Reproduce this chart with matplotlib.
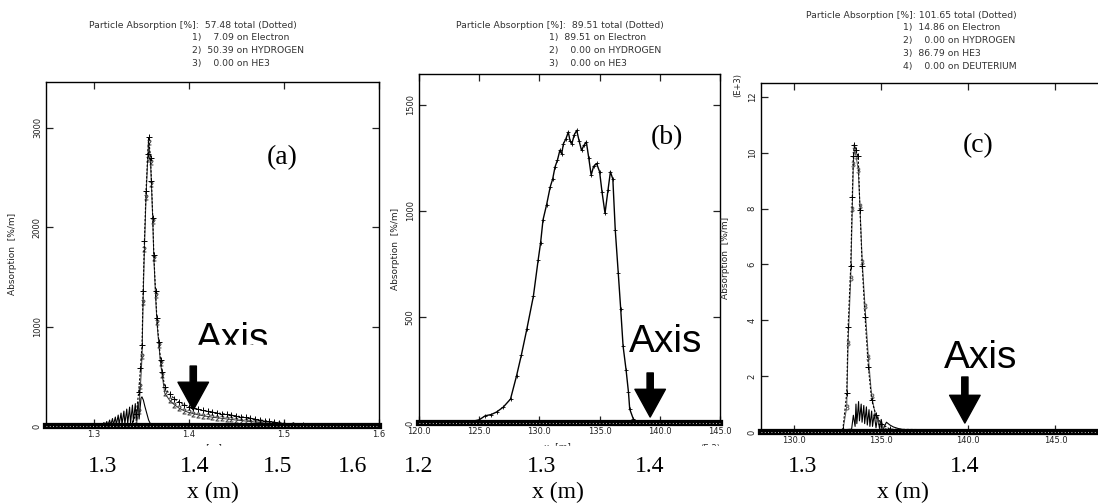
import matplotlib
matplotlib.use("Agg")
import matplotlib.pyplot as plt
from matplotlib.patches import Rectangle

W, H = 1098, 504

## Panel (a): x in m, absorption in %/m
xa = [1.330, 1.340, 1.345, 1.3476, 1.3494, 1.3511, 1.3522, 1.3536, 1.3553, 1.3571,
      1.358, 1.360, 1.361, 1.3624, 1.3635, 1.3653, 1.3667, 1.3688, 1.3706, 1.3723,
      1.375, 1.380, 1.385, 1.390, 1.395, 1.400, 1.405, 1.410, 1.415, 1.420,
      1.425, 1.430, 1.435, 1.440, 1.445, 1.450, 1.455, 1.460, 1.465, 1.470,
      1.475, 1.480, 1.485, 1.490, 1.495, 1.500, 1.510, 1.520, 1.540, 1.600]
tot_a = [0, 20, 120, 343, 579, 818, 1353, 1858, 2364, 2734,
         2902, 2700, 2465, 2094, 1724, 1354, 1084, 848, 663, 545,
         390, 320, 275, 240, 215, 195, 180, 168, 157, 148,
         140, 132, 125, 117, 110, 102, 94, 86, 78, 70,
         62, 54, 46, 38, 31, 25, 15, 8, 2, 0]
hyd_a = [0, 0, 10, 150, 400, 700, 1250, 1780, 2300, 2690,
         2860, 2660, 2430, 2060, 1690, 1320, 1050, 815, 630, 510,
         330, 260, 215, 180, 155, 137, 124, 113, 104, 96,
         89, 83, 77, 71, 66, 60, 55, 50, 45, 40,
         35, 30, 25, 21, 17, 13, 8, 4, 1, 0]
xa_e = [1.300, 1.302, 1.303, 1.305, 1.306, 1.308, 1.309, 1.311, 1.312, 1.314,
        1.315, 1.317, 1.318, 1.320, 1.321, 1.323, 1.324, 1.326, 1.327, 1.329,
        1.330, 1.332, 1.333, 1.335, 1.336, 1.338, 1.339, 1.341, 1.342, 1.344,
        1.345, 1.347, 1.348, 1.350, 1.351, 1.3525, 1.354, 1.356, 1.358, 1.361]
elec_a = [0, 10, 2, 18, 3, 25, 4, 35, 5, 45,
          6, 60, 8, 75, 10, 90, 12, 110, 15, 130,
          18, 150, 20, 170, 25, 190, 30, 210, 40, 225,
          50, 240, 70, 280, 293, 260, 200, 130, 60, 0]

## Panel (b): x in 1e-2 m
xb = [120.0, 123.0, 124.2, 125.0, 125.5, 126.0, 126.45, 127.0, 127.6, 128.1,
      128.5, 128.95, 129.5, 129.9, 130.1, 130.3, 130.6, 130.9, 131.1, 131.3,
      131.5, 131.7, 131.85, 132.0, 132.2, 132.4, 132.55, 132.7, 132.9, 133.1,
      133.3, 133.5, 133.7, 133.9, 134.1, 134.3, 134.5, 134.75, 135.0, 135.2,
      135.45, 135.7, 135.9, 136.1, 136.3, 136.55, 136.75, 136.95, 137.2, 137.4,
      137.5, 137.8, 138.2, 140.0, 145.0]
tot_b = [0, 0, 5, 15, 34, 40, 52, 75, 113, 222,
         320, 441, 598, 770, 850, 958, 1030, 1114, 1150, 1208,
         1240, 1286, 1270, 1318, 1340, 1372, 1330, 1318, 1360, 1380,
         1330, 1286, 1310, 1325, 1250, 1169, 1210, 1224, 1185, 1090,
         989, 1100, 1185, 1150, 911, 707, 540, 363, 250, 144,
         66, 19, 0, 0, 0]

## Panel (c): x in 1e-2 m, absorption in 1e3 %/m
xc = [128.1, 132.5, 132.8, 133.02, 133.1, 133.25, 133.34, 133.4, 133.45, 133.55,
      133.68, 133.78, 133.91, 134.07, 134.26, 134.45, 134.7, 135.0, 135.5, 147.9]
tot_c = [0, 0, 0.1, 1.39, 3.77, 5.93, 8.43, 9.87, 10.29, 10.1,
         9.87, 7.96, 5.93, 4.13, 2.34, 1.15, 0.6, 0.3, 0.1, 0]
he3_c = [0, 0, 0.05, 0.9, 3.2, 5.5, 8.0, 9.6, 10.1, 9.9,
         9.4, 8.1, 6.1, 4.5, 2.7, 1.3, 0.5, 0.2, 0.05, 0]
xc_e = [129.6, 132.6, 133.3, 133.4, 133.5, 133.55, 133.6, 133.7, 133.75, 133.85,
        133.9, 134.0, 134.05, 134.15, 134.2, 134.3, 134.35, 134.45, 134.5, 134.6,
        134.7, 134.8, 134.9, 135.0, 135.1, 135.3, 135.5, 135.7, 136.0, 136.5, 137.2]
elec_c = [0.07, 0.07, 0.1, 0.6, 0.2, 1.0, 0.3, 1.09, 0.4, 1.0,
          0.35, 0.95, 0.3, 0.9, 0.25, 0.8, 0.2, 0.75, 0.2, 0.65,
          0.15, 0.55, 0.12, 0.45, 0.1, 0.35, 0.25, 0.18, 0.12, 0.06, 0]

hdr_a = ["Particle Absorption [%]:  57.48 total (Dotted)",
         "1)    7.09 on Electron", "2)  50.39 on HYDROGEN", "3)    0.00 on HE3"]
hdr_b = ["Particle Absorption [%]:  89.51 total (Dotted)",
         "1)  89.51 on Electron", "2)    0.00 on HYDROGEN", "3)    0.00 on HE3"]
hdr_c = ["Particle Absorption [%]: 101.65 total (Dotted)",
         "1)  14.86 on Electron", "2)    0.00 on HYDROGEN", "3)  86.79 on HE3",
         "4)    0.00 on DEUTERIUM"]

big_a = ["1.3", "1.4", "1.5", "1.6"]
big_b = ["1.2", "1.3", "1.4"]
big_c = ["1.3", "1.4"]

fig = plt.figure(figsize=(W / 100, H / 100), dpi=100)


def fx(px):
    return px / W


def fy(py):
    return 1 - py / H


def panel(l, t, r, b):
    ax = fig.add_axes([fx(l), fy(b), (r - l) / W, (b - t) / H])
    ax.tick_params(direction="in", length=5, width=0.9, top=True, right=True,
                   labelsize=6, pad=3, colors="#222")
    for s in ax.spines.values():
        s.set_linewidth(1.0)
    return ax


def finish_y(ax):
    for lab in ax.get_yticklabels():
        lab.set_rotation(90)
        lab.set_va("center")
        lab.set_ha("right")


def zero_band(ax):
    ax.axhline(0, color="black", lw=4.5, clip_on=False, zorder=3)
    ax.axhline(0, color="white", lw=0.6, ls=(0, (1, 3)), clip_on=False, zorder=4)


def axis_arrow(ax, x, y0, y1):
    ax.annotate("", xy=(x, y1), xytext=(x, y0),
                arrowprops=dict(facecolor="black", edgecolor="black", width=4.5,
                                headwidth=22, headlength=20, shrink=0), zorder=7)


# (a)
ax = panel(46, 82, 378.5, 426)
ax.plot(xa_e, elec_a, color="black", lw=0.8)
ax.plot(xa, hyd_a, color="#333", lw=0.7, marker="$2$", ms=4, mew=0.2)
ax.plot(xa, tot_a, color="black", lw=0.8, ls=(0, (2, 1.5)), marker="+", ms=5, mew=0.7)
zero_band(ax)
ax.set_xlim(1.25, 1.6)
ax.set_ylim(0, 3460)
ax.set_xticks([1.3, 1.4, 1.5, 1.6])
ax.set_xticklabels(["1.3", "1.4", "1.5", "1.6"])
ax.set_yticks([0, 1000, 2000, 3000])
finish_y(ax)
ax.set_ylabel("Absorption  [%/m]", fontsize=6.5, color="#222")
ax.yaxis.set_label_coords(-0.087, 0.5)
ax.set_xlabel("x  [m]", fontsize=6.5, color="#222")
ax.xaxis.set_label_coords(0.49, -0.05)
ax.text(0.71, 0.779, "(a)", transform=ax.transAxes, fontsize=20,
        family="Liberation Serif", ha="center", va="center")
ax.text(1.446, 764, "Axis", fontsize=28, family="Liberation Sans",
        ha="center", va="baseline", zorder=5)
ax.add_patch(Rectangle((1.39, 643), 0.11, 171, color="white", zorder=6))
axis_arrow(ax, 1.405, 603, 161)

# (b)
ax = panel(419, 74, 720, 423)
ax.plot(xb, tot_b, color="black", lw=1.0, marker="+", ms=2.5, mew=0.6)
zero_band(ax)
ax.set_xlim(120, 145)
ax.set_ylim(0, 1646)
ax.set_xticks([120, 125, 130, 135, 140, 145])
ax.set_xticklabels(["120.0", "125.0", "130.0", "135.0", "140.0", "145.0"])
ax.set_yticks([0, 500, 1000, 1500])
finish_y(ax)
ax.set_ylabel("Absorption  [%/m]", fontsize=6.5, color="#222")
ax.yaxis.set_label_coords(-0.063, 0.5)
ax.set_xlabel("x  [m]", fontsize=6.5, color="#222")
ax.xaxis.set_label_coords(0.46, -0.054)
ax.text(1.0, -0.072, "(E-2)", transform=ax.transAxes, fontsize=6, ha="right",
        va="center", color="#222")
ax.text(0.824, 0.817, "(b)", transform=ax.transAxes, fontsize=20,
        family="Liberation Serif", ha="center", va="center")
ax.text(140.5, 335, "Axis", fontsize=28, family="Liberation Sans",
        ha="center", va="baseline", zorder=5)
axis_arrow(ax, 139.2, 236, 28)

# (c), right edge runs off the page like in the source image
ax = panel(761, 83, 1106, 432)
ax.plot(xc_e, elec_c, color="black", lw=0.8)
ax.plot(xc, he3_c, color="#555", lw=0.7, marker="$3$", ms=4, mew=0.2)
ax.plot(xc, tot_c, color="black", lw=0.8, ls=(0, (2, 1.5)), marker="+", ms=5, mew=0.7)
zero_band(ax)
ax.set_xlim(128.1, 147.9)
ax.set_ylim(0, 12.5)
ax.set_xticks([130, 135, 140, 145])
ax.set_xticklabels(["130.0", "135.0", "140.0", "145.0"])
ax.set_yticks([0, 2, 4, 6, 8, 10, 12])
finish_y(ax)
ax.set_ylabel("Absorption  [%/m]", fontsize=6.5, color="#222")
ax.yaxis.set_label_coords(-0.091, 0.5)
ax.text(-0.068, 0.994, "(E+3)", transform=ax.transAxes, fontsize=6, rotation=90,
        ha="center", va="center", color="#222")
ax.text(0.63, 0.822, "(c)", transform=ax.transAxes, fontsize=20,
        family="Liberation Serif", ha="center", va="center")
ax.text(140.7, 2.29, "Axis", fontsize=28, family="Liberation Sans",
        ha="center", va="baseline", zorder=5)
axis_arrow(ax, 139.8, 1.97, 0.32)

# headers
for hdr, x1, x2, y0 in [(hdr_a, 89, 192, 25), (hdr_b, 456, 549, 25), (hdr_c, 806, 903, 15)]:
    for i, line in enumerate(hdr):
        fig.text(fx(x1 if i == 0 else x2), fy(y0 + 12.8 * i), line, fontsize=6.7,
                 color="#333", ha="left", va="center")

# overlay of the new x labels on a white strip
fig.add_artist(Rectangle((0, 0), 1, fy(446), transform=fig.transFigure,
                         color="white", zorder=5))
for labs, xs, xm in [(big_a, [103, 195, 278, 353], 213),
                     (big_b, [419, 542, 650], 558),
                     (big_c, [803, 965], 903)]:
    for lab, x in zip(labs, xs):
        fig.text(fx(x), fy(467), lab, fontsize=17, family="Liberation Serif",
                 ha="center", va="center", zorder=6)
    fig.text(fx(xm), fy(492), "x (m)", fontsize=17, family="Liberation Serif",
             ha="center", va="center", zorder=6)

fig.savefig("out.png", dpi=100)
